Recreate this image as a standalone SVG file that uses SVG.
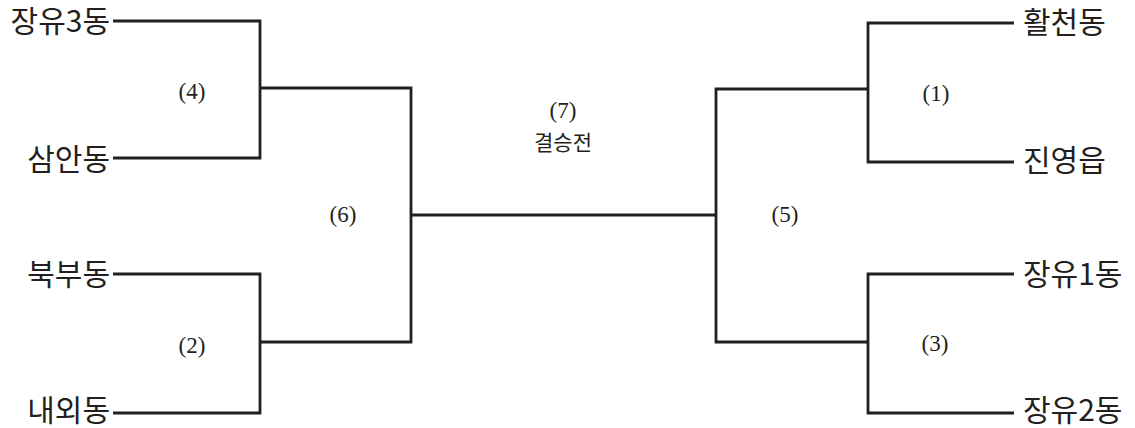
<svg xmlns="http://www.w3.org/2000/svg" width="1135" height="428" viewBox="0 0 1135 428">
<style>
.line{fill:none;stroke:#231f20;stroke-width:2.8;stroke-linejoin:miter;stroke-linecap:butt}
.team{font-family:"Noto Sans CJK KR","Noto Sans",sans-serif;font-size:30px;fill:#231f20}
.num{font-family:"Liberation Serif",serif;font-size:23px;fill:#231f20;text-anchor:middle}
.final{font-family:"Noto Sans CJK KR",sans-serif;font-size:21px;fill:#231f20;text-anchor:middle}
</style>
<rect width="1135" height="428" fill="#ffffff"/>
<g id="connectors">
<path class="line" d="M113,21 H260 V158 H113"/>
<path class="line" d="M260,88 H411 V342 H260"/>
<path class="line" d="M113,274 H260 V413 H113"/>
<path class="line" d="M411,215 H716"/>
<path class="line" d="M1014,23 H868 V162 H1014"/>
<path class="line" d="M868,89 H716 V342 H868"/>
<path class="line" d="M1014,274 H868 V413 H1014"/>
</g>
<g id="node-jangyu3"><text class="team" x="110" y="32" text-anchor="end">장유3동</text></g>
<g id="node-saman"><text class="team" x="110" y="170" text-anchor="end">삼안동</text></g>
<g id="node-bukbu"><text class="team" x="110" y="285" text-anchor="end">북부동</text></g>
<g id="node-naeoe"><text class="team" x="110" y="421" text-anchor="end">내외동</text></g>
<g id="node-hwalcheon"><text class="team" x="1023" y="33">활천동</text></g>
<g id="node-jinyeong"><text class="team" x="1023" y="171">진영읍</text></g>
<g id="node-jangyu1"><text class="team" x="1023" y="285">장유1동</text></g>
<g id="node-jangyu2"><text class="team" x="1023" y="421">장유2동</text></g>
<g id="match-4"><text class="num" x="192" y="99">(4)</text></g>
<g id="match-2"><text class="num" x="192" y="353">(2)</text></g>
<g id="match-6"><text class="num" x="343" y="222">(6)</text></g>
<g id="match-1"><text class="num" x="936" y="101">(1)</text></g>
<g id="match-3"><text class="num" x="935" y="351">(3)</text></g>
<g id="match-5"><text class="num" x="785" y="222">(5)</text></g>
<g id="match-7"><text class="num" x="563" y="118">(7)</text><text class="final" x="563" y="150">결승전</text></g>
</svg>
